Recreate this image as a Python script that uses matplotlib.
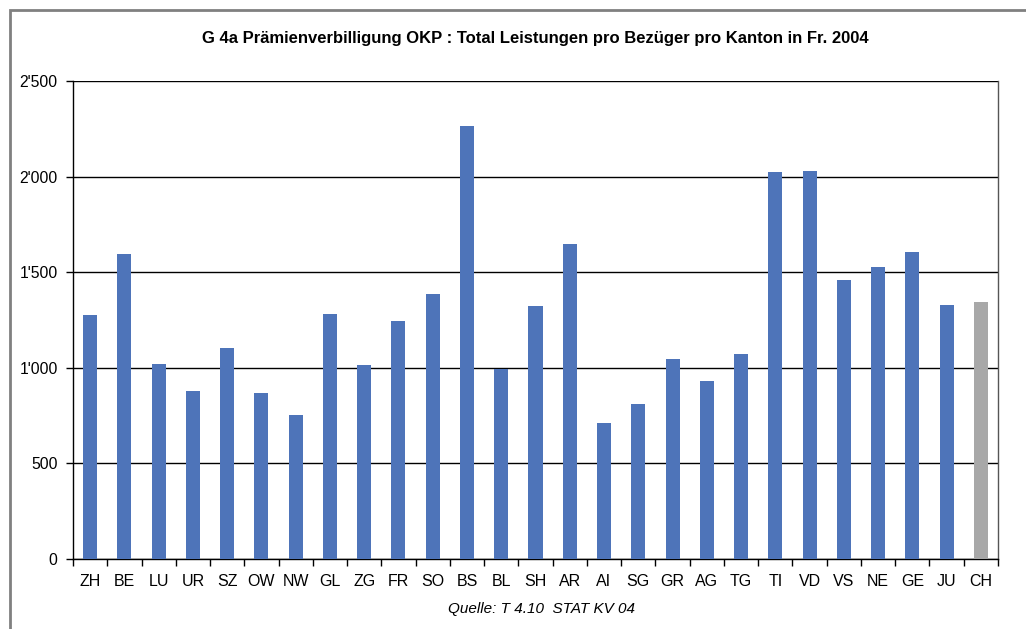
import matplotlib.pyplot as plt
from matplotlib.patches import Rectangle

# Daten: Total Leistungen pro Bezüger pro Kanton in Fr. 2004
kantone = ['ZH', 'BE', 'LU', 'UR', 'SZ', 'OW', 'NW', 'GL', 'ZG', 'FR', 'SO', 'BS', 'BL', 'SH',
           'AR', 'AI', 'SG', 'GR', 'AG', 'TG', 'TI', 'VD', 'VS', 'NE', 'GE', 'JU', 'CH']
werte = [1276, 1595, 1020, 879, 1104, 868, 753, 1281, 1015, 1245, 1386, 2265, 994, 1323,
         1647, 711, 811, 1046, 931, 1072, 2024, 2029, 1459, 1527, 1606, 1328, 1344]
y_ticks = [0, 500, 1000, 1500, 2000, 2500]
y_labels = ['0', '500', "1'000", "1'500", "2'000", "2'500"]

plt.rcParams['font.family'] = ['Liberation Sans', 'DejaVu Sans']

fig = plt.figure(figsize=(10.26, 6.29), dpi=100)
ax = fig.add_axes([73/1026, 70/629, 925/1026, 478/629])

farben = ['#4E74B9'] * (len(kantone) - 1) + ['#A8A8A8']
x = list(range(len(kantone)))
ax.bar(x, werte, width=0.41, color=farben, zorder=3)

ax.set_xlim(-0.5, len(kantone) - 0.5)
ax.set_ylim(0, 2500)
ax.set_yticks(y_ticks)
ax.set_yticklabels(y_labels, fontsize=11.3)
ax.set_xticks(x)
ax.set_xticklabels(kantone, fontsize=11.5)
ax.tick_params(axis='x', length=0, pad=11)
ax.set_xticks([i + 0.5 for i in range(-1, len(kantone))], minor=True)
ax.tick_params(axis='x', which='minor', length=5, width=1, direction='out', color='black')
ax.tick_params(axis='y', length=5, width=1, direction='out', pad=6)

ax.grid(axis='y', color='black', linewidth=1, zorder=1)
ax.spines['top'].set_visible(False)
ax.spines['left'].set_color('black')
ax.spines['bottom'].set_color('black')
ax.spines['right'].set_color('#555555')
for s in ax.spines.values():
    s.set_linewidth(1)

fig.text(535/1026, 1 - 38/629, 'G 4a Prämienverbilligung OKP : Total Leistungen pro Bezüger pro Kanton in Fr. 2004',
         ha='center', va='center', fontsize=12, fontweight='bold')
fig.text(541/1026, 1 - 609/629, 'Quelle: T 4.10  STAT KV 04', ha='center', va='center',
         fontsize=11, style='italic')

# Rahmen (nur oben und links sichtbar)
fig.patches.append(Rectangle((10/1026, -0.1), 1.2, 1 - 10/629 + 0.1, transform=fig.transFigure,
                             fill=False, edgecolor='#808080', linewidth=2))

fig.savefig('out.png', dpi=100)
